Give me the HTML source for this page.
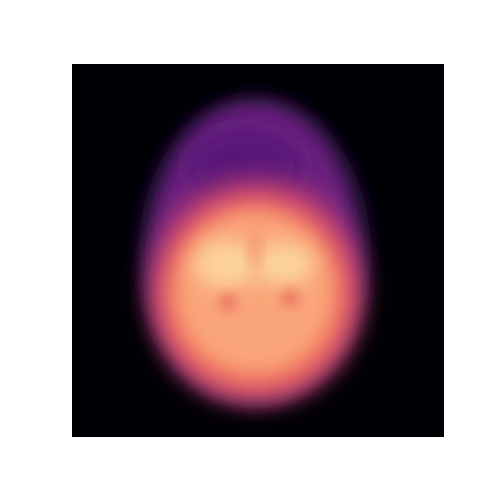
<!DOCTYPE html>
<html><head><meta charset="utf-8"><style>
html,body{margin:0;padding:0;background:#fff;width:480px;height:480px;overflow:hidden}
</style></head><body>
<svg width="480" height="480" viewBox="0 0 480 480">
<defs>
<clipPath id="c"><rect x="72" y="64" width="372" height="373"/></clipPath>
<filter id="b16" x="-50%" y="-50%" width="200%" height="200%"><feGaussianBlur stdDeviation="14"/></filter>
<filter id="b10" x="-50%" y="-50%" width="200%" height="200%"><feGaussianBlur stdDeviation="10"/></filter>
<filter id="b6" x="-50%" y="-50%" width="200%" height="200%"><feGaussianBlur stdDeviation="6"/></filter>
</defs>
<rect x="72" y="64" width="372" height="373" fill="#000004"/>
<g clip-path="url(#c)">
<ellipse cx="255" cy="252" rx="116" ry="155" fill="#140829" filter="url(#b10)"/>
<path d="M255,102 C320,102 360,180 360,262 C360,340 320,398 255,398 C190,398 148,340 148,262 C148,180 190,102 255,102 Z" fill="#6c2180" filter="url(#b10)"/>
<ellipse cx="245" cy="168" rx="60" ry="40" fill="#571878" filter="url(#b16)"/>
<ellipse cx="256" cy="290" rx="104" ry="110" fill="#c53e74" filter="url(#b16)"/>
<ellipse cx="256" cy="296" rx="94" ry="96" fill="#f0705c" filter="url(#b16)"/>
<ellipse cx="255" cy="292" rx="80" ry="82" fill="#faa579" filter="url(#b10)"/>
<ellipse cx="226" cy="264" rx="32" ry="23" fill="#fcd59b" filter="url(#b10)"/>
<ellipse cx="284" cy="264" rx="30" ry="21" fill="#fcd59b" filter="url(#b10)"/>
<ellipse cx="228" cy="302" rx="9" ry="8" fill="#e8705e" filter="url(#b6)"/>
<ellipse cx="290" cy="298" rx="9" ry="8" fill="#e8705e" filter="url(#b6)"/>
<ellipse cx="255" cy="250" rx="6" ry="20" fill="#f08a66" opacity="0.6" filter="url(#b6)"/>
</g>
</svg>
</body></html>
